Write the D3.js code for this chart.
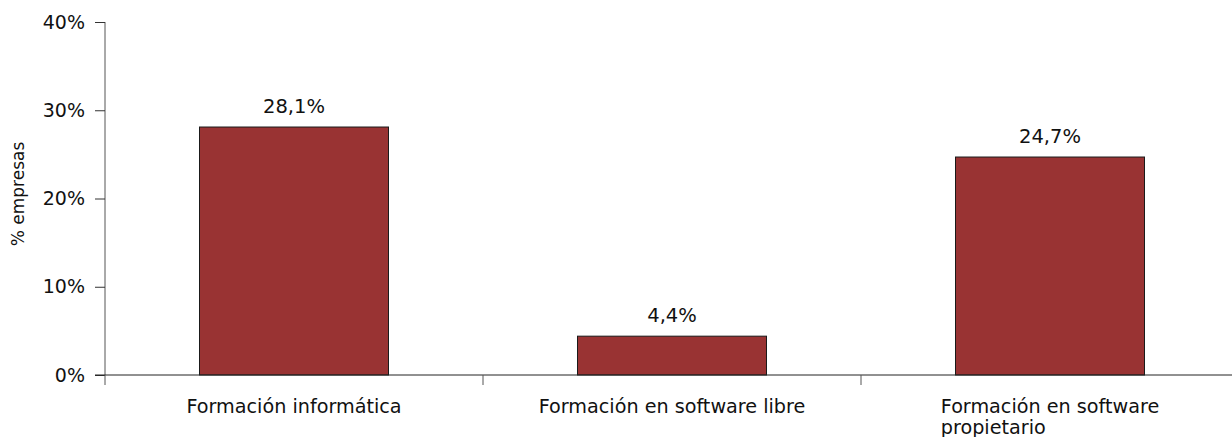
<!DOCTYPE html>
<html>
<head>
<meta charset="utf-8">
<script src="https://cdn.jsdelivr.net/npm/d3@7"></script>
<style>
    body { margin: 0; background: #fff; }
    text { font-family: "DejaVu Sans", sans-serif; fill: #111; }
</style>
</head>
<body>
<div id="chart"></div>
<script>
    "use strict"

    // data
    var categories = ['Formación informática', 'Formación en software libre', 'Formación en software propietario']
    var values = [28.1, 4.4, 24.7]
    var yTicks = [0, 10, 20, 30, 40]
    var yTitle = '% empresas'

    var width = 1232
    var height = 437
    var plotLeft = 105, plotRight = 1239, plotTop = 22, plotBottom = 375

    var svg = d3.select('#chart')
        .append('svg')
        .attr('width', width)
        .attr('height', height)

    var x = d3.scaleBand()
        .domain(categories)
        .range([plotLeft, plotRight])
        .paddingInner(0.5)
        .paddingOuter(0.25)

    var y = d3.scaleLinear()
        .domain([0, 40])
        .range([plotBottom, plotTop])

    var fmt = function (v) { return v.toFixed(1).replace('.', ',') + '%' }

    // Y axis
    var yAxis = svg.append('g')
        .attr('transform', `translate(${plotLeft},0)`)
        .call(d3.axisLeft(y).tickValues(yTicks).tickSize(10).tickPadding(10).tickFormat(d => d + '%'))
    yAxis.select('.domain').attr('stroke', '#555').attr('d', `M0,${plotTop}V${plotBottom}`)
    yAxis.selectAll('.tick line').attr('stroke', '#333')
    yAxis.selectAll('.tick text')
        .style('font-size', '19px')
        .attr('fill', '#111')

    // y title
    svg.append('text')
        .attr('transform', `translate(24,194) rotate(-90)`)
        .attr('text-anchor', 'middle')
        .style('font-size', '17px')
        .text(yTitle)

    // bars
    svg.selectAll('.bar')
        .data(values)
        .enter()
        .append('rect')
        .attr('class', 'bar')
        .attr('x', (d, i) => x(categories[i]))
        .attr('y', d => y(d))
        .attr('width', x.bandwidth())
        .attr('height', d => y(0) - y(d))
        .attr('fill', '#993333')
        .attr('stroke', '#1a1a1a')
        .attr('stroke-width', 1)

    // value labels
    svg.selectAll('.val')
        .data(values)
        .enter()
        .append('text')
        .attr('class', 'val')
        .attr('x', (d, i) => x(categories[i]) + x.bandwidth() / 2)
        .attr('y', d => y(d) - 14)
        .attr('text-anchor', 'middle')
        .style('font-size', '19.5px')
        .text(d => fmt(d))

    // X axis line and boundary ticks
    svg.append('line')
        .attr('x1', plotLeft - 10).attr('x2', width)
        .attr('y1', plotBottom).attr('y2', plotBottom)
        .attr('stroke', '#222')
    var step = x.step()
    var bounds = categories.map((c, i) => x(c) - step * 0.25).concat([plotRight])
    svg.selectAll('.xtick')
        .data(bounds)
        .enter()
        .append('line')
        .attr('x1', d => d).attr('x2', d => d)
        .attr('y1', plotBottom).attr('y2', plotBottom + 10)
        .attr('stroke', '#555')

    // category labels, wrapped, block centred with lines left aligned
    var maxW = 300
    categories.forEach(function (c, i) {
        var cx = x(c) + x.bandwidth() / 2
        var g = svg.append('text').style('font-size', '19.2px')
        var words = c.split(' ')
        var lines = []
        var line = []
        var tmp = g.append('tspan')
        words.forEach(function (w) {
            line.push(w)
            tmp.text(line.join(' '))
            if (tmp.node().getComputedTextLength() > maxW && line.length > 1) {
                line.pop()
                lines.push(line.join(' '))
                line = [w]
            }
        })
        lines.push(line.join(' '))
        tmp.remove()
        var widths = lines.map(function (l) {
            var t = g.append('tspan').text(l)
            var w = t.node().getComputedTextLength()
            t.remove()
            return w
        })
        var blockW = d3.max(widths)
        var x0 = cx - blockW / 2
        if (lines.length == 1) {
            g.attr('text-anchor', 'middle')
            x0 = cx
        }
        lines.forEach(function (l, j) {
            g.append('tspan')
                .attr('x', x0)
                .attr('y', 412.5 + j * 21)
                .text(l)
        })
    })
</script>
</body>
</html>
